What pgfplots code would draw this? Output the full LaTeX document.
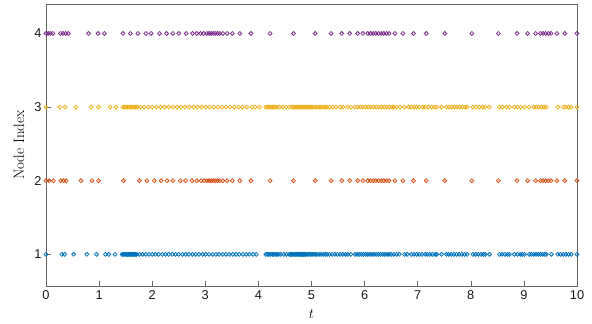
\documentclass[border=0pt]{standalone}
\usepackage{pgfplots}
\pgfplotsset{compat=1.18}
\usepackage{fontspec}
\newfontfamily\arialfont{Liberation Sans}
\definecolor{mblue}{rgb}{0,0.447,0.741}
\definecolor{morange}{rgb}{0.85,0.325,0.098}
\definecolor{myellow}{rgb}{0.929,0.694,0.125}
\definecolor{mpurple}{rgb}{0.494,0.184,0.556}
\pgfplotsset{evt/.style={only marks, mark=o, mark size=1.95pt, line width=0.8pt, mark options={solid}}}
\begin{document}
\begin{tikzpicture}
\begin{axis}[
  scale only axis, width=531pt, height=282pt,
  xmin=0, xmax=10, ymin=0.57, ymax=4.4,
  xtick={0,1,...,10}, ytick={1,2,3,4},
  tick align=inside, tickpos=left,
  major tick length=5pt,
  axis line style={black!60, line width=0.6pt},
  major tick style={black!60, line width=0.6pt},
  xticklabel={\pgfmathparse{int(round(\tick))}\pgfmathresult},
  yticklabel={\pgfmathparse{int(round(\tick))}\pgfmathresult},
  tick label style={font=\arialfont\fontsize{12.8}{14}\selectfont, black!90},
  xticklabel style={yshift=-1pt},
  yticklabel style={xshift=-1pt},
  xlabel={$t$}, ylabel={Node Index},
  every axis x label/.style={at={(rel axis cs:0.5,0)}, yshift=-28pt, anchor=center, font=\fontsize{14}{16}\selectfont},
  every axis y label/.style={at={(rel axis cs:0,0.5)}, xshift=-27pt, rotate=90, anchor=center, font=\fontsize{15}{17}\selectfont},
  clip=false,
]
\coordinate (ne) at (rel axis cs:1,1);
\coordinate (sw) at (rel axis cs:0,0);
% Node 1
\addplot[evt, mblue] coordinates {(0,1) (0.30,1) (0.35,1) (0.52,1) (0.77,1) (0.95,1) (1.12,1) (1.18,1) (1.30,1)
(1.43,1) (1.45,1) (1.47,1) (1.49,1) (1.51,1) (1.53,1) (1.55,1) (1.57,1) (1.59,1) (1.61,1) (1.63,1) (1.65,1) (1.67,1) (1.69,1) (1.71,1)
(1.76,1) (1.82,1) (1.88,1) (1.94,1) (2.00,1) (2.06,1) (2.12,1) (2.19,1) (2.25,1) (2.31,1) (2.38,1) (2.44,1) (2.50,1) (2.57,1) (2.63,1) (2.69,1) (2.76,1) (2.82,1) (2.88,1) (2.95,1) (3.01,1) (3.07,1) (3.14,1) (3.20,1) (3.26,1) (3.33,1) (3.39,1) (3.45,1) (3.52,1) (3.58,1) (3.64,1) (3.71,1) (3.77,1) (3.83,1) (3.90,1) (3.96,1)
(4.14,1) (4.17,1) (4.20,1) (4.23,1) (4.26,1) (4.29,1) (4.32,1) (4.35,1) (4.38,1) (4.42,1) (4.48,1) (4.53,1) (4.58,1) (4.61,1) (4.63,1) (4.65,1) (4.67,1) (4.69,1) (4.71,1) (4.73,1) (4.75,1) (4.77,1) (4.79,1) (4.81,1) (4.83,1) (4.85,1) (4.87,1) (4.89,1) (4.92,1) (4.95,1) (4.98,1) (5.01,1) (5.04,1) (5.07,1) (5.10,1) (5.14,1) (5.18,1) (5.22,1) (5.26,1) (5.29,1)
(5.34,1) (5.39,1) (5.44,1) (5.49,1) (5.54,1) (5.59,1) (5.64,1) (5.68,1) (5.74,1) (5.82,1) (5.86,1) (5.90,1) (5.94,1) (5.98,1) (6.02,1) (6.06,1) (6.10,1) (6.14,1) (6.18,1) (6.22,1) (6.26,1) (6.30,1) (6.34,1) (6.38,1) (6.42,1) (6.46,1) (6.50,1) (6.55,1) (6.60,1) (6.65,1) (6.75,1) (6.80,1) (6.88,1) (6.93,1) (6.98,1) (7.03,1) (7.08,1) (7.14,1) (7.18,1) (7.23,1) (7.28,1) (7.33,1) (7.36,1) (7.45,1) (7.54,1) (7.58,1) (7.63,1) (7.68,1) (7.73,1) (7.78,1) (7.83,1) (7.88,1) (7.93,1) (8.04,1) (8.09,1) (8.14,1) (8.19,1) (8.24,1) (8.27,1) (8.35,1) (8.54,1) (8.59,1) (8.64,1) (8.69,1) (8.73,1) (8.82,1) (8.88,1) (8.93,1) (8.97,1) (9.01,1) (9.10,1) (9.14,1) (9.19,1) (9.23,1) (9.27,1) (9.31,1) (9.35,1) (9.39,1) (9.42,1) (9.52,1) (9.64,1) (9.69,1) (9.74,1) (9.79,1) (9.84,1) (9.89,1) (10,1)};
% Node 2
\addplot[evt, morange] coordinates {(0,2) (0.06,2) (0.14,2) (0.28,2) (0.33,2) (0.38,2) (0.66,2) (0.87,2) (0.99,2) (1.46,2) (1.76,2) (1.90,2) (2.04,2) (2.17,2) (2.28,2) (2.39,2) (2.53,2) (2.63,2) (2.75,2) (2.84,2) (2.92,2) (2.98,2) (3.03,2) (3.07,2) (3.11,2) (3.15,2) (3.19,2) (3.23,2) (3.27,2) (3.33,2) (3.41,2) (3.51,2) (3.65,2) (3.86,2) (4.22,2) (4.66,2) (5.07,2)
(5.37,2) (5.57,2) (5.72,2) (5.87,2) (5.97,2) (6.06,2) (6.11,2) (6.16,2) (6.21,2) (6.26,2) (6.31,2) (6.36,2) (6.41,2) (6.46,2) (6.57,2) (6.72,2) (6.92,2) (7.16,2) (7.51,2) (8.02,2) (8.52,2) (8.87,2) (9.07,2) (9.22,2) (9.31,2) (9.36,2) (9.41,2) (9.46,2) (9.51,2) (9.62,2) (9.77,2) (10,2)};
% Node 3
\addplot[evt, myellow] coordinates {(0,3) (0.26,3) (0.36,3) (0.56,3) (0.85,3) (0.99,3) (1.21,3) (1.32,3) (1.45,3) (1.48,3) (1.51,3) (1.54,3) (1.57,3) (1.60,3) (1.63,3) (1.66,3) (1.69,3) (1.72,3)
(1.78,3) (1.85,3) (1.93,3) (2.00,3) (2.08,3) (2.16,3) (2.23,3) (2.31,3) (2.39,3) (2.47,3) (2.54,3) (2.62,3) (2.70,3) (2.78,3) (2.85,3) (2.93,3) (3.01,3) (3.08,3) (3.16,3) (3.24,3) (3.32,3) (3.39,3) (3.47,3) (3.55,3) (3.63,3) (3.70,3) (3.78,3) (3.88,3) (3.94,3) (4.02,3)
(4.14,3) (4.17,3) (4.20,3) (4.23,3) (4.26,3) (4.29,3) (4.32,3) (4.35,3) (4.40,3) (4.46,3) (4.52,3) (4.58,3) (4.63,3) (4.66,3) (4.69,3) (4.72,3) (4.75,3) (4.78,3) (4.81,3) (4.84,3) (4.87,3) (4.90,3) (4.93,3) (4.96,3) (4.99,3) (5.02,3) (5.06,3) (5.10,3) (5.14,3) (5.18,3) (5.22,3) (5.26,3) (5.29,3)
(5.34,3) (5.40,3) (5.46,3) (5.54,3) (5.59,3) (5.68,3) (5.74,3) (5.82,3) (5.87,3) (5.92,3) (5.97,3) (6.02,3) (6.07,3) (6.12,3) (6.17,3) (6.22,3) (6.27,3) (6.32,3) (6.37,3) (6.42,3) (6.47,3) (6.52,3) (6.55,3) (6.60,3) (6.67,3) (6.75,3) (6.83,3) (6.88,3) (6.93,3) (6.98,3) (7.03,3) (7.10,3) (7.14,3) (7.20,3) (7.26,3) (7.31,3) (7.36,3) (7.45,3) (7.54,3) (7.59,3) (7.64,3) (7.69,3) (7.74,3) (7.79,3) (7.84,3) (7.89,3) (7.93,3) (8.04,3) (8.10,3) (8.16,3) (8.22,3) (8.27,3) (8.35,3) (8.54,3) (8.60,3) (8.67,3) (8.73,3) (8.82,3) (8.88,3) (8.94,3) (9.01,3) (9.10,3) (9.19,3) (9.23,3) (9.28,3) (9.33,3) (9.38,3) (9.42,3) (9.64,3) (9.74,3) (9.79,3) (9.84,3) (9.89,3) (10,3)};
% Node 4
\addplot[evt, mpurple] coordinates {(0,4) (0.04,4) (0.08,4) (0.13,4) (0.27,4) (0.32,4) (0.37,4) (0.42,4) (0.80,4) (0.98,4) (1.10,4) (1.45,4) (1.59,4) (1.73,4) (1.88,4) (1.98,4) (2.14,4) (2.27,4) (2.39,4) (2.50,4) (2.64,4) (2.76,4) (2.84,4) (2.91,4) (2.97,4) (3.03,4) (3.07,4) (3.11,4) (3.15,4) (3.19,4) (3.23,4) (3.27,4) (3.33,4) (3.41,4) (3.51,4) (3.65,4) (3.86,4) (4.22,4) (4.66,4) (5.07,4)
(5.37,4) (5.57,4) (5.72,4) (5.87,4) (5.97,4) (6.06,4) (6.11,4) (6.16,4) (6.21,4) (6.26,4) (6.31,4) (6.36,4) (6.41,4) (6.46,4) (6.57,4) (6.72,4) (6.92,4) (7.16,4) (7.51,4) (8.02,4) (8.52,4) (8.87,4) (9.07,4) (9.22,4) (9.31,4) (9.36,4) (9.41,4) (9.46,4) (9.51,4) (9.62,4) (9.77,4) (10,4)};
\end{axis}
\useasboundingbox ([xshift=-46pt,yshift=-37pt]sw) rectangle ([xshift=15pt,yshift=4pt]ne);
\end{tikzpicture}
\end{document}
